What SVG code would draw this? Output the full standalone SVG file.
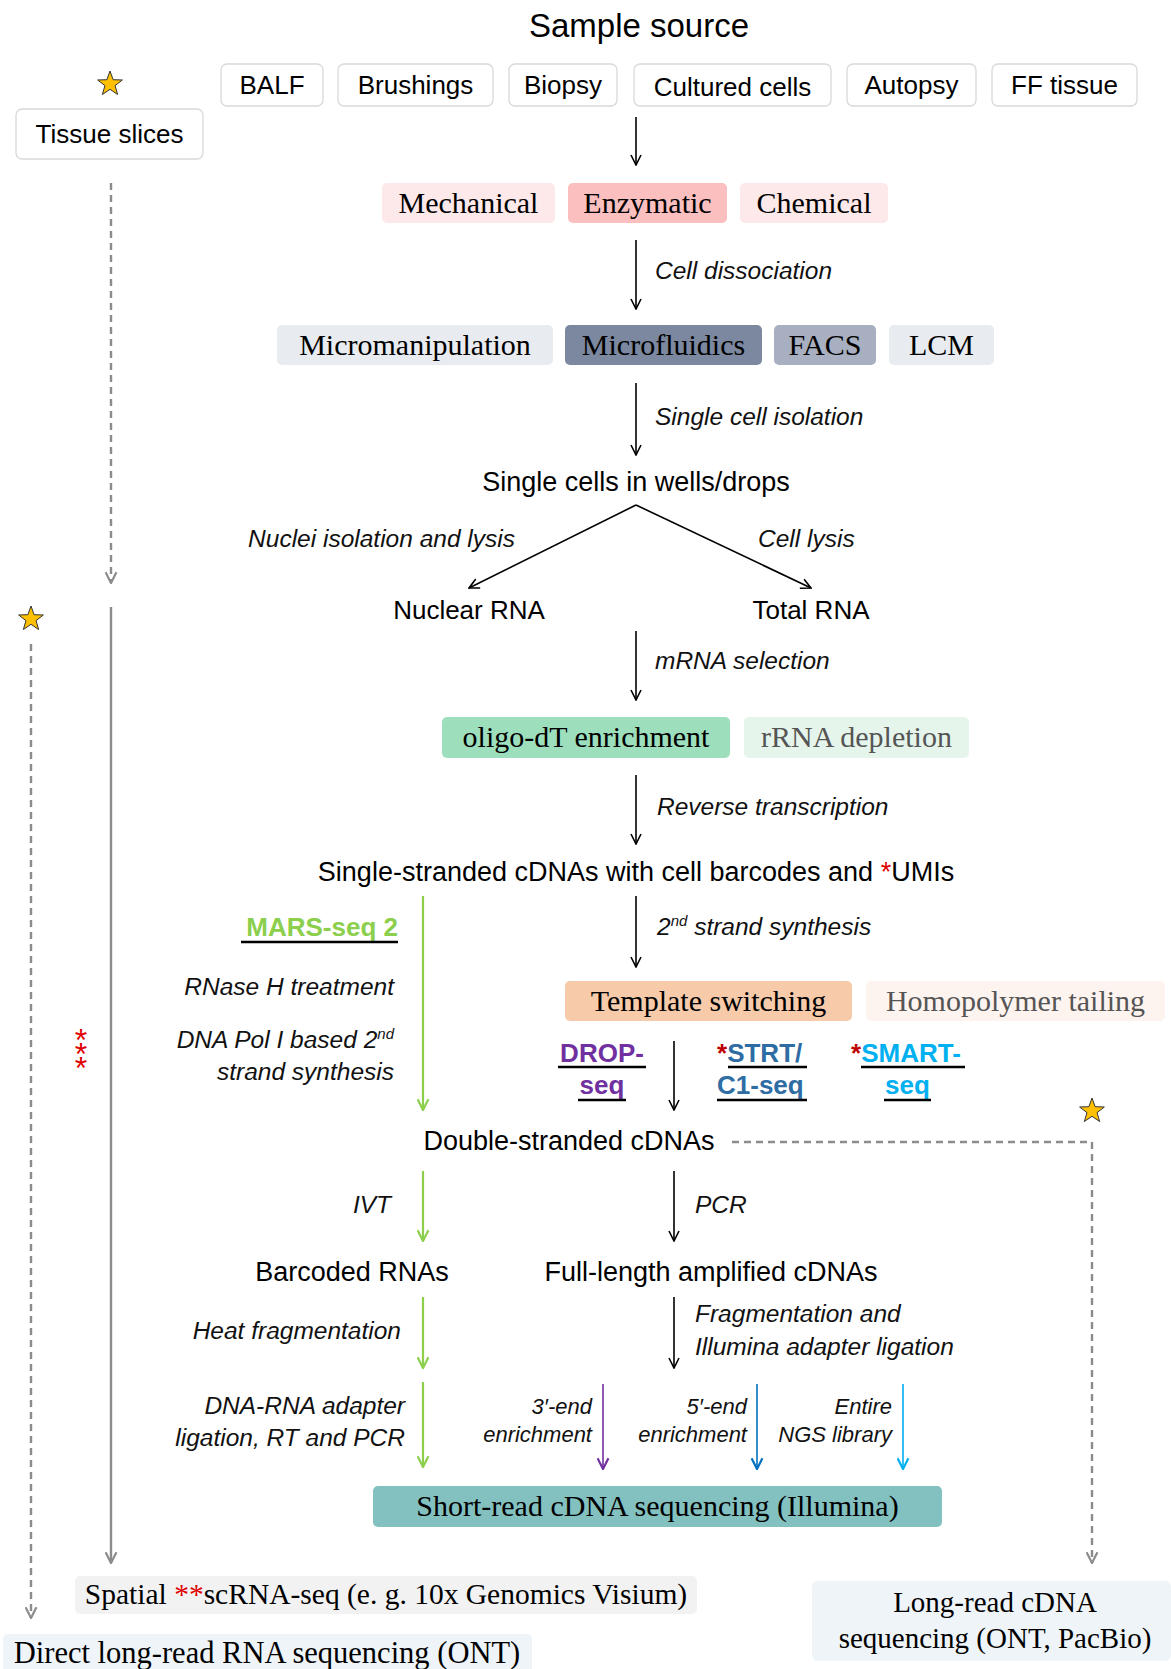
<svg xmlns="http://www.w3.org/2000/svg" width="1171" height="1669" viewBox="0 0 1171 1669">
<style>
.sans{font-family:"Liberation Sans",Arial,sans-serif;font-size:26px;fill:#000}
.sl{font-size:27px}
.title{font-family:"Liberation Sans",Arial,sans-serif;font-size:33px;fill:#000}
.serif{font-family:"Liberation Serif","Times New Roman",serif;font-size:30px;fill:#000}
.it{font-family:"Liberation Sans",Arial,sans-serif;font-style:italic;font-size:24.5px;fill:#111}
.its{font-family:"Liberation Sans",Arial,sans-serif;font-style:italic;font-size:22px;fill:#111}
.bold{font-family:"Liberation Sans",Arial,sans-serif;font-weight:bold;font-size:26px}
.src{fill:#fff;stroke:#d9d9d9;stroke-width:1.3}
.ln{fill:none;stroke-width:1.6}
.k{stroke:#000}
.g{stroke:#8ccf4d;stroke-width:2.2}
.gray{stroke:#8c8c8c;stroke-width:2.4}
.dash{stroke-dasharray:7 5}
.ul{stroke:#000;stroke-width:2.6}
.red{fill:#e00000}
.star{fill:#ffc000;stroke:#333;stroke-width:1}
.mid{text-anchor:middle}
.end{text-anchor:end}
</style>
<defs>
<marker id="ak" viewBox="0 0 12 12" refX="11" refY="6" markerWidth="12" markerHeight="12" markerUnits="userSpaceOnUse" orient="auto"><path d="M1,1 L11,6 L1,11" fill="none" stroke="#000" stroke-width="1.6"/></marker>
<marker id="ag" viewBox="0 0 12 12" refX="11" refY="6" markerWidth="13" markerHeight="13" markerUnits="userSpaceOnUse" orient="auto"><path d="M1,1 L11,6 L1,11" fill="none" stroke="#8ccf4d" stroke-width="2"/></marker>
<marker id="agr" viewBox="0 0 12 12" refX="11" refY="6" markerWidth="13" markerHeight="13" markerUnits="userSpaceOnUse" orient="auto"><path d="M1,1 L11,6 L1,11" fill="none" stroke="#8c8c8c" stroke-width="2"/></marker>
<marker id="ap" viewBox="0 0 12 12" refX="11" refY="6" markerWidth="13" markerHeight="13" markerUnits="userSpaceOnUse" orient="auto"><path d="M1,1 L11,6 L1,11" fill="none" stroke="#7030a0" stroke-width="2"/></marker>
<marker id="ab" viewBox="0 0 12 12" refX="11" refY="6" markerWidth="13" markerHeight="13" markerUnits="userSpaceOnUse" orient="auto"><path d="M1,1 L11,6 L1,11" fill="none" stroke="#0070c0" stroke-width="2"/></marker>
<marker id="alb" viewBox="0 0 12 12" refX="11" refY="6" markerWidth="13" markerHeight="13" markerUnits="userSpaceOnUse" orient="auto"><path d="M1,1 L11,6 L1,11" fill="none" stroke="#00b0f0" stroke-width="2"/></marker>
<polygon id="starshape" points="0,-13 3.12,-4.29 12.36,-4.02 5.04,1.64 7.64,10.52 0,5.3 -7.64,10.52 -5.04,1.64 -12.36,-4.02 -3.12,-4.29"/>
</defs>
<rect width="1171" height="1669" fill="#fff"/>

<text class="title mid" x="639" y="37">Sample source</text>

<g id="sources">
<g id="n-balf"><rect class="src" x="221" y="64" width="102" height="42" rx="6"/><text class="sans mid" x="272" y="94">BALF</text></g>
<g id="n-brushings"><rect class="src" x="338" y="64" width="155" height="42" rx="6"/><text class="sans mid" x="415.5" y="94">Brushings</text></g>
<g id="n-biopsy"><rect class="src" x="509" y="64" width="108" height="42" rx="6"/><text class="sans mid" x="563" y="94">Biopsy</text></g>
<g id="n-cultured"><rect class="src" x="634" y="64" width="197" height="42" rx="6"/><text class="sans mid" x="732.5" y="96">Cultured cells</text></g>
<g id="n-autopsy"><rect class="src" x="847" y="64" width="129" height="42" rx="6"/><text class="sans mid" x="911.5" y="94">Autopsy</text></g>
<g id="n-ff"><rect class="src" x="992" y="64" width="145" height="42" rx="6"/><text class="sans mid" x="1064.5" y="94">FF tissue</text></g>
<g id="n-tissue"><rect class="src" x="16" y="109" width="187" height="50" rx="6"/><text class="sans mid" x="109.5" y="143">Tissue slices</text></g>
</g>

<g id="stars">
<use href="#starshape" class="star" x="110" y="84"/>
<use href="#starshape" class="star" x="31" y="619"/>
<use href="#starshape" class="star" x="1092" y="1111"/>
</g>

<g id="dissociation">
<g id="n-mech"><rect x="382" y="183" width="173" height="40" rx="5" fill="#fde9e9"/><text class="serif mid" x="468.5" y="213">Mechanical</text></g>
<g id="n-enz"><rect x="568" y="183" width="159" height="40" rx="5" fill="#fbbfbf"/><text class="serif mid" x="647.5" y="213">Enzymatic</text></g>
<g id="n-chem"><rect x="740" y="183" width="148" height="40" rx="5" fill="#fde9e9"/><text class="serif mid" x="814" y="213">Chemical</text></g>
</g>

<g id="isolation">
<g id="n-micromanip"><rect x="277" y="325" width="276" height="40" rx="5" fill="#e8ebef"/><text class="serif mid" x="415" y="355">Micromanipulation</text></g>
<g id="n-microfl"><rect x="565" y="325" width="197" height="40" rx="5" fill="#7b889f"/><text class="serif mid" x="663.5" y="355">Microfluidics</text></g>
<g id="n-facs"><rect x="774" y="325" width="102" height="40" rx="5" fill="#a7afc0"/><text class="serif mid" x="825" y="355">FACS</text></g>
<g id="n-lcm"><rect x="889" y="325" width="105" height="40" rx="5" fill="#e8ebef"/><text class="serif mid" x="941.5" y="355">LCM</text></g>
</g>

<g id="n-singlecells"><text class="sans sl mid" x="636" y="491">Single cells in wells/drops</text></g>
<g id="n-nuclear"><text class="sans mid" x="469" y="619">Nuclear RNA</text></g>
<g id="n-total"><text class="sans mid" x="811" y="619">Total RNA</text></g>

<g id="selection">
<g id="n-oligo"><rect x="442" y="717" width="288" height="41" rx="5" fill="#9ddfbd"/><text class="serif mid" x="586" y="747">oligo-dT enrichment</text></g>
<g id="n-rrna"><rect x="744" y="717" width="225" height="41" rx="5" fill="#e6f5ec"/><text class="serif mid" x="856.5" y="747" style="fill:#555">rRNA depletion</text></g>
</g>

<g id="n-ss"><text class="sans sl mid" x="636" y="881">Single-stranded cDNAs with cell barcodes and <tspan class="red">*</tspan>UMIs</text></g>

<g id="n-mars"><text class="bold end" x="398" y="936" fill="#8ccf4d">MARS-seq 2</text><line class="ul" x1="241" y1="942" x2="398" y2="942"/></g>

<g id="second-strand">
<g id="n-template"><rect x="565" y="981" width="287" height="40" rx="5" fill="#f7cbaa"/><text class="serif mid" x="708.5" y="1011">Template switching</text></g>
<g id="n-homo"><rect x="866" y="981" width="299" height="40" rx="5" fill="#fdf3ef"/><text class="serif mid" x="1015.5" y="1011" style="fill:#555">Homopolymer tailing</text></g>
</g>

<g id="n-drop">
<text class="bold mid" x="602" y="1062" fill="#7030a0">DROP-</text><line class="ul" x1="558" y1="1067" x2="646" y2="1067"/>
<text class="bold mid" x="602" y="1094" fill="#7030a0">seq</text><line class="ul" x1="578" y1="1100" x2="626" y2="1100"/>
</g>
<g id="n-strt">
<text class="bold" x="717" y="1062" fill="#2e6ca4"><tspan fill="#c00000">*</tspan>STRT/</text><line class="ul" x1="728" y1="1067" x2="807" y2="1067"/>
<text class="bold" x="717" y="1094" fill="#2e6ca4">C1-seq</text><line class="ul" x1="717" y1="1100" x2="807" y2="1100"/>
</g>
<g id="n-smart">
<text class="bold" x="851" y="1062" fill="#00b0f0"><tspan fill="#c00000">*</tspan>SMART-</text><line class="ul" x1="861" y1="1067" x2="965" y2="1067"/>
<text class="bold mid" x="907.5" y="1094" fill="#00b0f0">seq</text><line class="ul" x1="884" y1="1100" x2="931" y2="1100"/>
</g>

<g id="n-ds"><text class="sans sl mid" x="569" y="1150">Double-stranded cDNAs</text></g>
<g id="n-barcoded"><text class="sans sl mid" x="352" y="1281">Barcoded RNAs</text></g>
<g id="n-fulllength"><text class="sans sl mid" x="711" y="1281">Full-length amplified cDNAs</text></g>

<g id="n-shortread"><rect x="373" y="1486" width="569" height="41" rx="5" fill="#83c0c0"/><text class="serif mid" x="657.5" y="1516">Short-read cDNA sequencing (Illumina)</text></g>
<g id="n-spatial"><rect x="75" y="1576" width="622" height="38" rx="5" fill="#f2f2f2"/><text class="serif mid" x="386" y="1604" style="font-size:29.5px">Spatial <tspan style="fill:#e00000">**</tspan>scRNA-seq (e. g. 10x Genomics Visium)</text></g>
<g id="n-direct"><rect x="3" y="1634" width="529" height="45" rx="5" fill="#eef4f8"/><text class="serif mid" x="267" y="1663" style="font-size:30.5px">Direct long-read RNA sequencing (ONT)</text></g>
<g id="n-longread"><rect x="812" y="1581" width="359" height="80" rx="6" fill="#eef4f8"/><text class="serif mid" x="995" y="1612" style="font-size:29px">Long-read cDNA</text><text class="serif mid" x="995" y="1648" style="font-size:29px">sequencing (ONT, PacBio)</text></g>

<g id="stars-red"><text x="81" y="1022" style="font-family:'Liberation Sans',Arial,sans-serif;font-size:32px;fill:#e00000;writing-mode:vertical-rl;text-orientation:upright;letter-spacing:-22px">***</text></g>

<g id="labels">
<text class="it" x="655" y="279">Cell dissociation</text>
<text class="it" x="655" y="425">Single cell isolation</text>
<text class="it end" x="515" y="547">Nuclei isolation and lysis</text>
<text class="it" x="758" y="547">Cell lysis</text>
<text class="it" x="655" y="669">mRNA selection</text>
<text class="it" x="657" y="815">Reverse transcription</text>
<text class="it" x="657" y="935">2<tspan dy="-9" style="font-size:15px">nd</tspan><tspan dy="9"> strand synthesis</tspan></text>
<text class="it end" x="394" y="995">RNase H treatment</text>
<text class="it end" x="394" y="1048">DNA Pol I based 2<tspan dy="-9" style="font-size:15px">nd</tspan></text>
<text class="it end" x="394" y="1080">strand synthesis</text>
<text class="it end" x="391" y="1213">IVT</text>
<text class="it" x="695" y="1213">PCR</text>
<text class="it end" x="401" y="1339">Heat fragmentation</text>
<text class="it" x="695" y="1322">Fragmentation and</text>
<text class="it" x="695" y="1355">Illumina adapter ligation</text>
<text class="it end" x="405" y="1414">DNA-RNA adapter</text>
<text class="it end" x="405" y="1446">ligation, RT and PCR</text>
<text class="its end" x="592" y="1414">3′-end</text>
<text class="its end" x="592" y="1442">enrichment</text>
<text class="its end" x="747" y="1414">5′-end</text>
<text class="its end" x="747" y="1442">enrichment</text>
<text class="its end" x="892" y="1414">Entire</text>
<text class="its end" x="892" y="1442">NGS library</text>
</g>

<g id="connectors">
<line class="ln k" x1="636" y1="117" x2="636" y2="165" marker-end="url(#ak)"/>
<line class="ln k" x1="636" y1="240" x2="636" y2="309" marker-end="url(#ak)"/>
<line class="ln k" x1="636" y1="383" x2="636" y2="455" marker-end="url(#ak)"/>
<line class="ln k" x1="636" y1="505" x2="469" y2="588" marker-end="url(#ak)"/>
<line class="ln k" x1="636" y1="505" x2="811" y2="588" marker-end="url(#ak)"/>
<line class="ln k" x1="636" y1="631" x2="636" y2="700" marker-end="url(#ak)"/>
<line class="ln k" x1="636" y1="775" x2="636" y2="844" marker-end="url(#ak)"/>
<line class="ln k" x1="636" y1="896" x2="636" y2="967" marker-end="url(#ak)"/>
<line class="ln k" x1="674" y1="1041" x2="674" y2="1110" marker-end="url(#ak)"/>
<line class="ln k" x1="674" y1="1171" x2="674" y2="1241" marker-end="url(#ak)"/>
<line class="ln k" x1="674" y1="1297" x2="674" y2="1368" marker-end="url(#ak)"/>
<line class="ln g" x1="423" y1="896" x2="423" y2="1110" marker-end="url(#ag)"/>
<line class="ln g" x1="423" y1="1171" x2="423" y2="1241" marker-end="url(#ag)"/>
<line class="ln g" x1="423" y1="1297" x2="423" y2="1368" marker-end="url(#ag)"/>
<line class="ln g" x1="423" y1="1382" x2="423" y2="1467" marker-end="url(#ag)"/>
<line class="ln" stroke="#7030a0" stroke-width="2.2" x1="603" y1="1384" x2="603" y2="1469" marker-end="url(#ap)"/>
<line class="ln" stroke="#0070c0" stroke-width="2.2" x1="757" y1="1384" x2="757" y2="1469" marker-end="url(#ab)"/>
<line class="ln" stroke="#00b0f0" stroke-width="2.2" x1="903" y1="1384" x2="903" y2="1469" marker-end="url(#alb)"/>
<line class="ln gray dash" x1="111" y1="183" x2="111" y2="583" marker-end="url(#agr)"/>
<line class="ln gray" x1="111" y1="607" x2="111" y2="1563" marker-end="url(#agr)"/>
<line class="ln gray dash" x1="31" y1="644" x2="31" y2="1618" marker-end="url(#agr)"/>
<polyline class="ln gray dash" points="732,1142 1092,1142 1092,1563" marker-end="url(#agr)"/>
</g>
</svg>
